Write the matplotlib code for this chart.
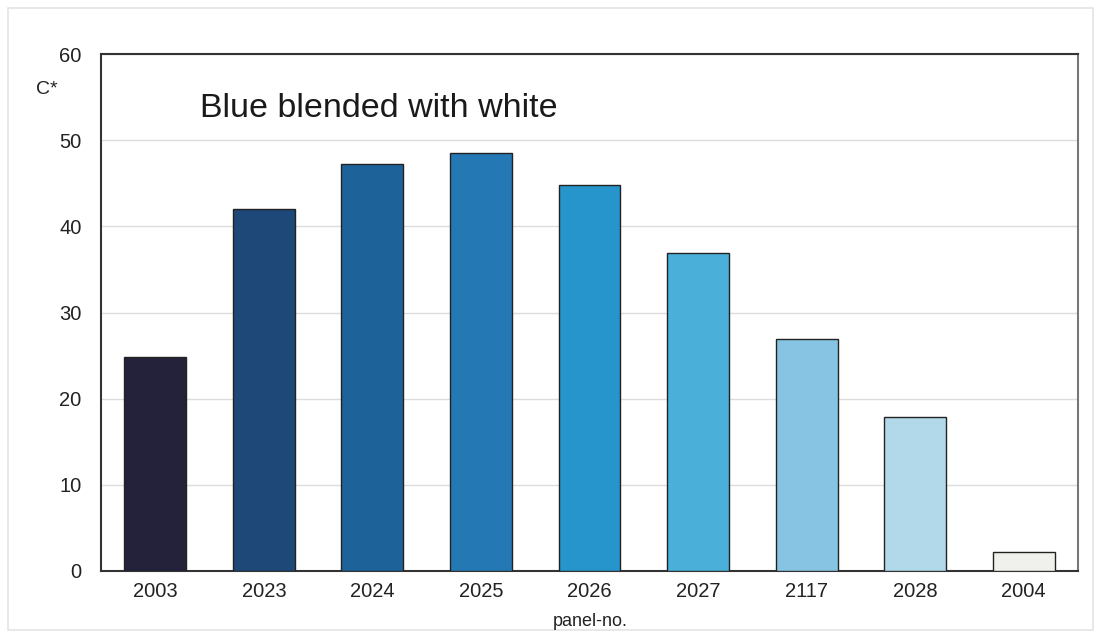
import matplotlib
matplotlib.use("Agg")
import matplotlib.pyplot as plt
from matplotlib.patches import Rectangle

panels = ["2003", "2023", "2024", "2025", "2026", "2027", "2117", "2028", "2004"]
chroma = [24.8, 42.0, 47.2, 48.5, 44.8, 36.9, 26.9, 17.9, 2.2]
colors = ["#23223a", "#1e4878", "#1d6399", "#2479b4", "#2595cb",
          "#4aafd9", "#87c4e3", "#b1d9ea", "#f0f0ec"]
yticks = [0, 10, 20, 30, 40, 50, 60]

plt.rcParams['font.family'] = ['Liberation Sans', 'DejaVu Sans']

fig = plt.figure(figsize=(10.97, 6.34), dpi=100)
fig.patches.append(Rectangle((8/1097, 4/634), 1085/1097, 622/634, transform=fig.transFigure,
                             fill=False, edgecolor="#e4e4e4", linewidth=1.2))
ax = fig.add_axes([101/1097, 1 - 571/634, (1078-101)/1097, (571-54)/634])

x = range(len(panels))
ax.bar(x, chroma, width=0.57, color=colors, edgecolor="#222222", linewidth=1.0, zorder=3)
ax.set_xlim(-0.5, len(panels) - 0.5)
ax.set_ylim(0, 60)
ax.set_yticks(yticks)
ax.set_xticks(list(x))
ax.set_xticklabels(panels)
ax.tick_params(axis='both', length=0, labelsize=14.5, colors="#222222")
ax.tick_params(axis='y', pad=14)
ax.tick_params(axis='x', pad=8)
ax.yaxis.grid(True, color="#dcdcdc", linewidth=1.0, zorder=0)
for s in ax.spines.values():
    s.set_color("#333333")
    s.set_linewidth(1.5)
ax.spines['right'].set_color("#777777")

ax.text(0.101, 0.895, "Blue blended with white", transform=ax.transAxes,
        fontsize=24.5, color="#1a1a1a", va='center', ha='left')
fig.text(47/1097, 1 - 89/634, "C*", fontsize=14, color="#222222", ha='center', va='center')
fig.text(590/1097, 1 - 622/634, "panel-no.", fontsize=13, color="#222222", ha='center', va='center')

fig.savefig("out.png", dpi=100)
